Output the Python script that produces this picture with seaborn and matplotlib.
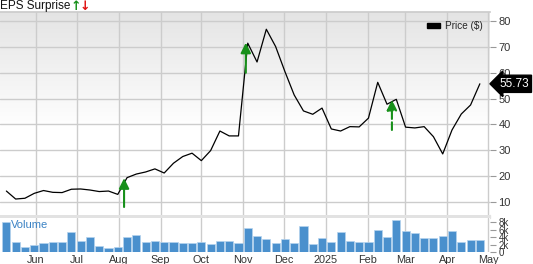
import numpy as np
import pandas as pd
import matplotlib
matplotlib.use("Agg")
import matplotlib.pyplot as plt
import matplotlib.dates as mdates
from matplotlib.ticker import FuncFormatter, FixedLocator
from matplotlib.patches import Patch, Rectangle
from matplotlib.transforms import blended_transform_factory
import seaborn as sns

# ---------------- data ----------------
price = [14.1, 11.0, 11.3, 13.2, 14.3, 13.6, 13.5, 14.8, 14.9, 14.5,
         13.9, 14.1, 12.8, 19.3, 20.7, 21.5, 22.7, 21.1, 24.9, 27.5,
         28.8, 25.9, 29.8, 37.4, 35.5, 35.5, 71.5, 64.2, 76.9, 70.2,
         60.5, 51.4, 45.2, 43.9, 46.3, 38.2, 37.4, 39.1, 39.0, 42.4,
         56.3, 47.8, 49.7, 38.9, 38.6, 39.1, 35.2, 28.5, 37.8, 44.0,
         47.5, 55.73]
volume_k = [8.0, 2.6, 1.3, 1.9, 2.3, 2.6, 2.6, 5.4, 3.0, 3.9,
            1.7, 1.0, 1.4, 4.1, 4.5, 2.8, 3.0, 2.8, 2.8, 2.4,
            2.4, 2.6, 2.1, 3.0, 3.0, 2.3, 6.4, 4.3, 3.5, 2.4,
            3.5, 2.5, 6.9, 2.2, 3.7, 2.8, 5.4, 3.0, 2.7, 2.6,
            6.0, 3.9, 8.7, 5.7, 5.1, 3.7, 3.7, 4.3, 5.7, 2.8,
            3.3, 3.3]
dates = pd.date_range("2024-05-10", "2025-04-25", periods=len(price))

eps_dates = pd.to_datetime(["2024-08-05", "2024-11-03", "2025-02-19"])
eps_from = [7.9, 60.0, 37.8]
eps_to = [19.1, 71.7, 49.5]
eps_style = ["solid", "solid", "dashed"]

price_ticks = [10, 20, 30, 40, 50, 60, 70, 80]
volume_ticks = [0, 2, 4, 6, 8]
last_price_label = "55.73"

df = pd.DataFrame({"date": dates, "price": price, "volume": volume_k})

# ---------------- style ----------------
sns.set_theme(style="white")
plt.rcParams["font.family"] = ["Liberation Sans", "DejaVu Sans"]

W, H = 533, 264
fig = plt.figure(figsize=(W / 100, H / 100), dpi=100)

x0, x1 = pd.Timestamp("2024-05-05 07:00"), pd.Timestamp("2025-05-02 12:00")

axp = fig.add_axes([0, 1 - 215 / H, 490 / W, (215 - 12) / H])
axv = fig.add_axes([0, 1 - 252 / H, 490 / W, (252 - 217.5) / H], sharex=axp)

# separator band
fig.add_artist(Rectangle((0, 1 - 217.5 / H), 490 / W, 2.5 / H,
                         transform=fig.transFigure, color="#e2e2e2", zorder=0))

# gradient background for price panel
n = 256
f = np.linspace(0, 1, n)[:, None]
t = np.clip((f - 0.42) / (1 - 0.42), 0, 1)
shade = 1 - t * (1 - 0.895)
img = np.dstack([shade, shade, shade])
axp.imshow(img, extent=[0, 1, 0, 1], transform=axp.transAxes, origin="lower",
           aspect="auto", zorder=0, interpolation="bilinear")

grid_c = "#cccccc"
for ax in (axp, axv):
    ax.set_facecolor("white")
    for s in ax.spines.values():
        s.set_visible(False)
    ax.xaxis.set_major_locator(mdates.MonthLocator())
    ax.grid(axis="x", color=grid_c, linewidth=1.0, zorder=1)
    ax.yaxis.tick_right()
    ax.tick_params(axis="y", which="both", length=4, width=0.8, color="#999999",
                   labelsize=8, labelcolor="#333333", pad=2)
    ax.tick_params(axis="x", length=0, labelsize=7.8, labelcolor="#333333", pad=2)

axv.tick_params(axis="y", labelsize=7)

axp.spines["top"].set_visible(True)
axp.spines["top"].set_color(grid_c)
axp.grid(axis="y", color=grid_c, linewidth=1.0, zorder=1)

# price line
sns.lineplot(data=df, x="date", y="price", ax=axp, color="black", linewidth=0.9,
             zorder=4, legend=False)
axp.set_ylim(4.8, 83.6)
axp.yaxis.set_major_locator(FixedLocator(price_ticks))
axp.set_xlabel("")
axp.set_ylabel("")
axp.tick_params(axis="x", labelbottom=False)

# EPS surprise arrows
green = "#17901a"
for d, a, b, ls in zip(eps_dates, eps_from, eps_to, eps_style):
    axp.annotate("", xy=(d, b), xytext=(d, a),
                 arrowprops=dict(arrowstyle="-|>,head_length=0.5,head_width=0.25",
                                 color=green, lw=1.5, linestyle=ls,
                                 shrinkA=0, shrinkB=0),
                 zorder=5)

# price tag
tr = blended_transform_factory(axp.transAxes, axp.transData)
axp.annotate(last_price_label, xy=(1.0, price[-1]), xycoords=tr,
             xytext=(28.0, 0), textcoords="offset points", ha="right", va="center",
             fontsize=8.5, color="white", annotation_clip=False,
             bbox=dict(boxstyle="larrow,pad=0.22", fc="black", ec="black"),
             zorder=6)

# legend
axp.legend(handles=[Patch(facecolor="black", edgecolor="black")],
           labels=["Price ($)"], loc="upper right", bbox_to_anchor=(0.997, 0.985),
           frameon=False, fontsize=7.2, handlelength=1.3, handleheight=0.45,
           handletextpad=0.5, borderaxespad=0.2)

fig.text(0.0, 1 - 6 / H, "EPS Surprise", fontsize=8.5, color="#111111",
         ha="left", va="center")
fig.text(71 / W, 1 - 6 / H, "\u2191", fontsize=9, color=green, ha="left",
         va="center", fontweight="bold", family=["DejaVu Sans"])
fig.text(80 / W, 1 - 6 / H, "\u2193", fontsize=9, color="#e01010", ha="left",
         va="center", fontweight="bold", family=["DejaVu Sans"])

# volume bars
axv.bar(df["date"], df["volume"], width=6.0, color="#4a90cd",
        edgecolor="#b5d3ee", linewidth=0.5, zorder=3)
axv.set_ylim(0, 9.24)
axv.yaxis.set_major_locator(FixedLocator(volume_ticks))
axv.yaxis.set_major_formatter(FuncFormatter(lambda v, p: "0" if v == 0 else f"{int(v)}k"))
axv.xaxis.set_major_formatter(FuncFormatter(
    lambda v, p: mdates.num2date(v).strftime("%Y") if mdates.num2date(v).month == 1
    else mdates.num2date(v).strftime("%b")))
axv.text(0.022, 0.78, "Volume", transform=axv.transAxes, fontsize=8,
         color="#3b82c4", ha="left", va="center", zorder=6)

axp.set_xlim(x0, x1)

fig.savefig("out.png", dpi=100)
